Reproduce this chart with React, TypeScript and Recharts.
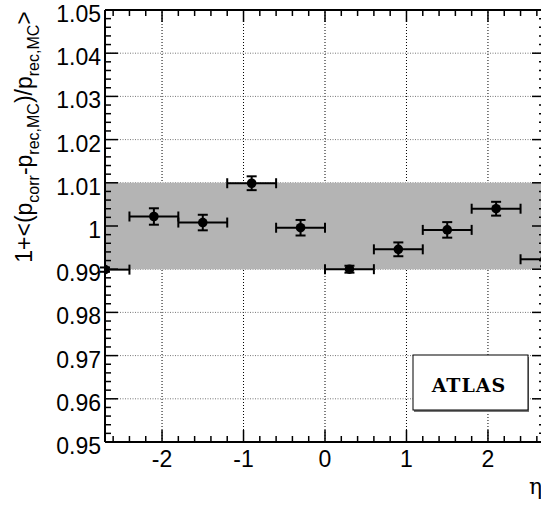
import React from 'react';
import { ComposedChart, Scatter, XAxis, YAxis, ErrorBar, ReferenceLine, ReferenceArea } from 'recharts';

// ---- data ----
const etaCenters = [-2.7, -2.1, -1.5, -0.9, -0.3, 0.3, 0.9, 1.5, 2.1, 2.7];
const ratioValues = [0.9899, 1.0022, 1.0008, 1.0099, 0.9996, 0.99, 0.9946, 0.9991, 1.004, 0.9923];
const ratioErrors = [0.0005, 0.0019, 0.0018, 0.0016, 0.0018, 0.0008, 0.0016, 0.0018, 0.0016, 0.0016];
const etaErrors: [number, number][] = [
  [0, 0.3], [0.3, 0.3], [0.3, 0.3], [0.3, 0.3], [0.3, 0.3],
  [0.3, 0.3], [0.3, 0.3], [0.3, 0.3], [0.3, 0.3], [0.3, 0],
];
const bandLow = 0.99;
const bandHigh = 1.01;

const xDomain: [number, number] = [-2.7, 2.7];
const yDomain: [number, number] = [0.95, 1.05];
const xMajorTicks = [-2, -1, 0, 1, 2];
const xAllTicks = [
  -2.6, -2.4, -2.2, -2, -1.8, -1.6, -1.4, -1.2, -1, -0.8, -0.6, -0.4, -0.2, 0,
  0.2, 0.4, 0.6, 0.8, 1, 1.2, 1.4, 1.6, 1.8, 2, 2.2, 2.4, 2.6,
];
const yMajorTicks = [0.95, 0.96, 0.97, 0.98, 0.99, 1.0, 1.01, 1.02, 1.03, 1.04, 1.05];
const yMinorSteps = [0, 0.002, 0.004, 0.006, 0.008];
const yAllTicks = yMajorTicks.flatMap((m, i) =>
  i < yMajorTicks.length - 1 ? yMinorSteps.map((s) => Math.round((m + s) * 1000) / 1000) : [m]
);
const yGridTicks = [0.96, 0.97, 0.98, 0.99, 1.0, 1.01, 1.02, 1.03, 1.04];

const rows = etaCenters.map((eta, i) => ({
  eta,
  val: ratioValues[i],
  ey: ratioErrors[i],
  ex: etaErrors[i],
}));

const FONT = 'Liberation Sans, Arial, Helvetica, sans-serif';
const isXMajor = (v: number) => Math.abs(v - Math.round(v)) < 1e-6;
const isYMajor = (v: number) => Math.abs(v * 100 - Math.round(v * 100)) < 1e-6;
const fmtY = (v: number) => parseFloat(v.toFixed(2)).toString();

const BottomTick = (props: any) => {
  const { x, y, payload } = props;
  const major = isXMajor(payload.value);
  return (
    <g>
      <line x1={x} x2={x} y1={y} y2={y - (major ? 12 : 6)} stroke="#000" strokeWidth={1.5} />
      {major && (
        <text x={x} y={y + 25} textAnchor="middle" fontSize={23} fontFamily={FONT} fill="#000">
          {String(Math.round(payload.value))}
        </text>
      )}
    </g>
  );
};

const TopTick = (props: any) => {
  const { x, y, payload } = props;
  const major = isXMajor(payload.value);
  return <line x1={x} x2={x} y1={y} y2={y + (major ? 12 : 6)} stroke="#000" strokeWidth={1.5} />;
};

const LeftTick = (props: any) => {
  const { x, y, payload } = props;
  const major = isYMajor(payload.value);
  return (
    <g>
      <line x1={x} x2={x + (major ? 13 : 6)} y1={y} y2={y} stroke="#000" strokeWidth={1.5} />
      {major && (
        <text x={x - 4} y={y + 12} textAnchor="end" fontSize={23} fontFamily={FONT} fill="#000">
          {fmtY(payload.value)}
        </text>
      )}
    </g>
  );
};

const RightTick = (props: any) => {
  const { x, y, payload } = props;
  const major = isYMajor(payload.value);
  return <line x1={x} x2={x - (major ? 13 : 6)} y1={y} y2={y} stroke="#000" strokeWidth={1.5} />;
};

const Dot = (props: any) => <circle cx={props.cx} cy={props.cy} r={4.8} fill="#000" />;

export default function App() {
  return (
    <div
      style={{
        position: 'fixed',
        left: 0,
        top: 0,
        width: 541,
        height: 505,
        overflow: 'hidden',
        background: '#fff',
        fontFamily: FONT,
      }}
    >
      <ComposedChart
        width={600}
        height={505}
        data={rows}
        margin={{ top: 9, right: 54, left: 45, bottom: 23 }}
      >
        <XAxis
          dataKey="eta"
          type="number"
          domain={xDomain}
          allowDataOverflow
          ticks={xAllTicks}
          interval={0}
          height={40}
          tickSize={0}
          tickMargin={0}
          tickLine={false}
          axisLine={{ stroke: '#000', strokeWidth: 2 }}
          tick={<BottomTick />}
        />
        <XAxis
          xAxisId="top"
          orientation="top"
          dataKey="eta"
          type="number"
          domain={xDomain}
          allowDataOverflow
          ticks={xAllTicks}
          interval={0}
          height={1}
          tickSize={0}
          tickMargin={0}
          tickLine={false}
          axisLine={{ stroke: '#000', strokeWidth: 2 }}
          tick={<TopTick />}
        />
        <YAxis
          type="number"
          domain={yDomain}
          allowDataOverflow
          ticks={yAllTicks}
          interval={0}
          width={60}
          tickSize={0}
          tickMargin={0}
          tickLine={false}
          axisLine={{ stroke: '#000', strokeWidth: 2 }}
          tick={<LeftTick />}
        />
        <YAxis
          yAxisId="right"
          orientation="right"
          type="number"
          domain={yDomain}
          allowDataOverflow
          ticks={yAllTicks}
          interval={0}
          width={1}
          tickSize={0}
          tickMargin={0}
          tickLine={false}
          axisLine={{ stroke: '#000', strokeWidth: 2 }}
          tick={<RightTick />}
        />
        {xMajorTicks.map((v) => (
          <ReferenceLine
            key={'vx' + v}
            x={v}
            stroke="#000"
            strokeWidth={1}
            strokeDasharray="1 2"
            zIndex={-10}
          />
        ))}
        {yGridTicks.map((v) => (
          <ReferenceLine
            key={'hy' + v}
            y={v}
            stroke="#777"
            strokeWidth={1}
            strokeDasharray="1 1.5"
            zIndex={-10}
          />
        ))}
        <ReferenceArea
          y1={bandLow}
          y2={bandHigh}
          x1={xDomain[0]}
          x2={xDomain[1]}
          fill="#b4b4b4"
          fillOpacity={1}
          stroke="none"
          zIndex={0}
        />
        <Scatter dataKey="val" isAnimationActive={false} shape={<Dot />}>
          <ErrorBar dataKey="ex" direction="x" width={5} stroke="#000" strokeWidth={2} isAnimationActive={false} />
          <ErrorBar dataKey="ey" direction="y" width={5} stroke="#000" strokeWidth={2} isAnimationActive={false} />
        </Scatter>
      </ComposedChart>
      <svg
        width={541}
        height={505}
        style={{ position: 'absolute', left: 0, top: 0, pointerEvents: 'none' }}
      >
        <text
          transform="translate(32,137) rotate(-90)"
          textAnchor="middle"
          fontSize={23}
          fontFamily={FONT}
          fill="#000"
        >
          <tspan>1+&lt;(p</tspan>
          <tspan fontSize={16} dy={7}>corr</tspan>
          <tspan dy={-7}>-p</tspan>
          <tspan fontSize={16} dy={7}>rec,MC</tspan>
          <tspan dy={-7}>)/p</tspan>
          <tspan fontSize={16} dy={7}>rec,MC</tspan>
          <tspan dy={-7}>&gt;</tspan>
        </text>
        <text x={529} y={494} fontSize={22} fontFamily="DejaVu Serif, Liberation Serif, serif" fill="#000">
          η
        </text>
        <rect x={414} y={357} width={115} height={55} fill="#777" />
        <rect x={413} y={355} width={115} height={55} fill="#fff" stroke="#000" strokeWidth={1} />
        <text
          x={469}
          y={392}
          textAnchor="middle"
          fontSize={19}
          fontWeight="bold"
          letterSpacing={1}
          fontFamily="DejaVu Serif, Liberation Serif, serif"
          fill="#000"
        >
          ATLAS
        </text>
      </svg>
    </div>
  );
}
